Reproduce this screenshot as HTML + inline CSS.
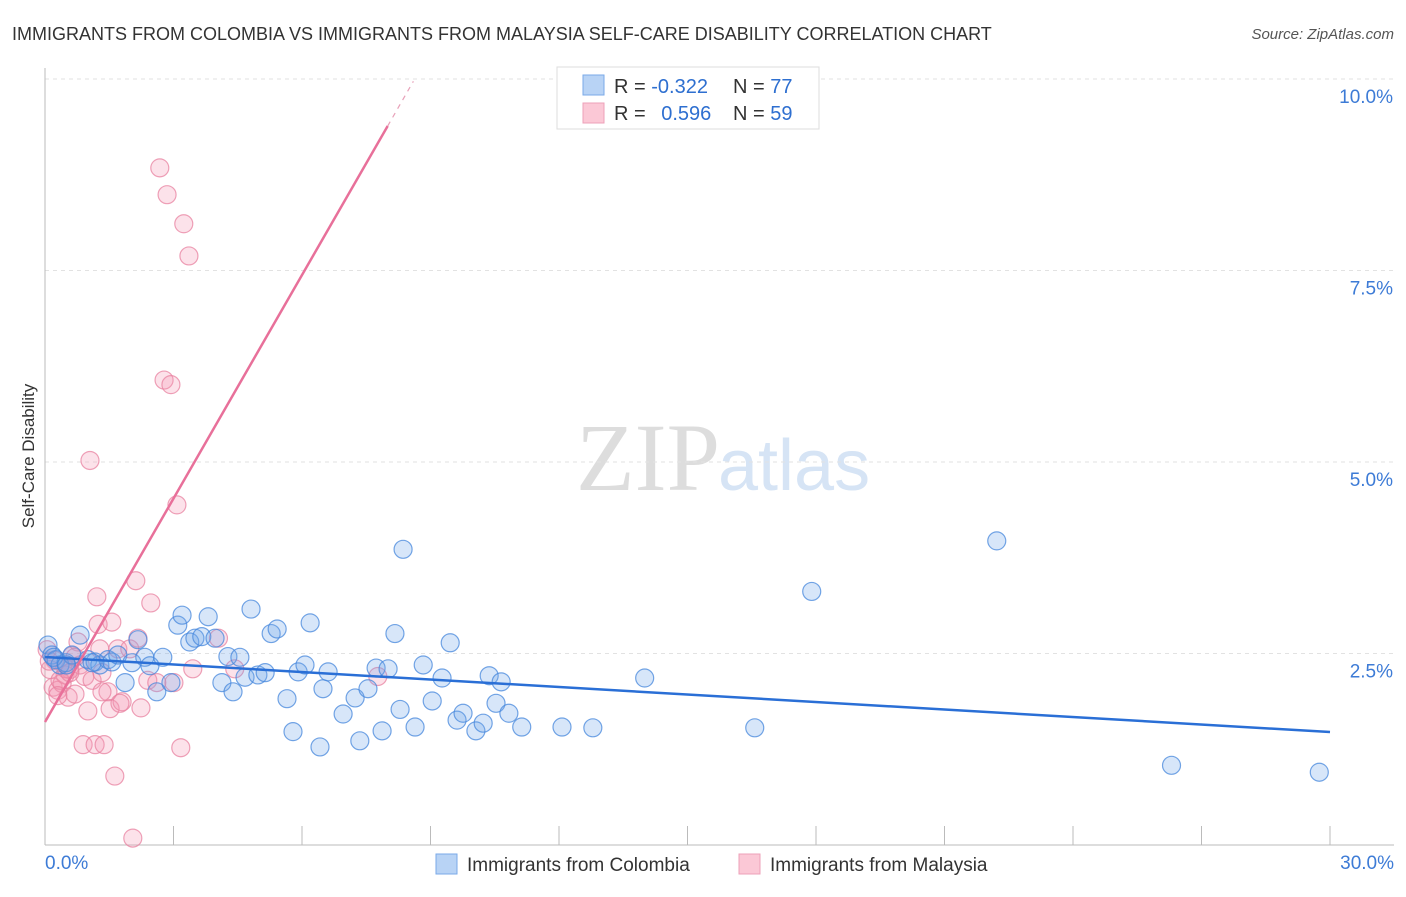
<!DOCTYPE html>
<html><head><meta charset="utf-8"><style>
body{margin:0;background:#fff;font-family:"Liberation Sans",sans-serif;}
svg text{font-family:"Liberation Sans",sans-serif;}
</style></head><body>
<svg id="c" width="1406" height="892">
<text x="12" y="40" font-size="18" fill="#333">IMMIGRANTS FROM COLOMBIA VS IMMIGRANTS FROM MALAYSIA SELF-CARE DISABILITY CORRELATION CHART</text>
<text x="1394" y="39" font-size="15" fill="#555" font-style="italic" text-anchor="end">Source: ZipAtlas.com</text>
<text x="720" y="490" font-size="96" fill="#ddd" text-anchor="end" font-family="Liberation Serif" style="font-family:'Liberation Serif',serif">ZIP</text>
<text x="718" y="490" font-size="72" fill="#d6e4f5">atlas</text>
<text x="34" y="456" font-size="17" fill="#333" text-anchor="middle" transform="rotate(-90 34 456)">Self-Care Disability</text>
<g id="grid"></g><g id="axes"></g><g id="pts"></g><g id="lines"></g>
<g>
<rect x="557" y="67" width="262" height="62" fill="#fff" stroke="#ddd"/>
<rect x="583" y="75" width="21" height="20" fill="#b8d3f5" stroke="#7aaae8"/>
<rect x="583" y="103" width="21" height="20" fill="#fbc8d6" stroke="#eea0b8"/>
<text x="614" y="93" font-size="20" fill="#333">R = <tspan fill="#2e6fd0">-0.322</tspan></text>
<text x="733" y="93" font-size="20" fill="#333">N = <tspan fill="#2e6fd0">77</tspan></text>
<text x="614" y="120" font-size="20" fill="#333">R = <tspan fill="#2e6fd0" dx="10">0.596</tspan></text>
<text x="733" y="120" font-size="20" fill="#333">N = <tspan fill="#2e6fd0">59</tspan></text>
</g>
<g>
<rect x="436" y="854" width="21" height="20" fill="#b8d3f5" stroke="#7aaae8"/>
<text x="467" y="871" font-size="19" fill="#333">Immigrants from Colombia</text>
<rect x="739" y="854" width="21" height="20" fill="#fbc8d6" stroke="#eea0b8"/>
<text x="770" y="871" font-size="19" fill="#333">Immigrants from Malaysia</text>
</g>
</svg>
<script>
const yTicks=[2.5,5.0,7.5,10.0];
const yTickLabels=["2.5%","5.0%","7.5%","10.0%"];
const xTickLabels=["0.0%","30.0%"];
const colombiaX=[0.07,0.16,0.26,0.35,0.49,0.63,0.82,1.0,1.17,1.28,1.47,1.56,1.70,1.87,2.03,2.17,2.33,2.45,2.61,2.75,2.94,3.10,3.20,3.38,3.50,3.66,3.81,3.97,4.13,4.27,4.39,4.55,4.67,4.81,4.97,5.14,5.28,5.42,5.65,5.79,5.91,6.07,6.19,6.42,6.49,6.61,6.96,7.24,7.35,7.54,7.73,7.87,8.01,8.17,8.29,8.36,8.64,8.83,9.04,9.27,9.46,9.62,9.76,10.06,10.23,10.37,10.53,10.65,10.83,11.13,12.07,12.79,14.00,16.57,17.90,22.22,26.30,29.75,0.2,0.5,1.1];
const colombiaY=[2.61,2.48,2.42,2.35,2.38,2.48,2.74,2.42,2.39,2.35,2.42,2.39,2.48,2.12,2.38,2.68,2.45,2.34,2.0,2.45,2.12,2.87,3.0,2.65,2.7,2.72,2.98,2.7,2.12,2.46,2.0,2.45,2.19,3.08,2.22,2.25,2.76,2.82,1.91,1.48,2.26,2.35,2.9,1.28,2.04,2.26,1.71,1.92,1.36,2.04,2.31,1.49,2.3,2.76,1.77,3.86,1.54,2.35,1.88,2.18,2.64,1.63,1.72,1.49,1.59,2.21,1.85,2.13,1.72,1.54,1.54,1.53,2.18,1.53,3.31,3.97,1.04,0.95,2.45,2.35,2.38];
const malaysiaX=[0.05,0.12,0.19,0.23,0.30,0.40,0.47,0.54,0.58,0.63,0.70,0.77,0.82,0.89,0.93,1.00,1.05,1.10,1.17,1.21,1.24,1.28,1.33,1.38,1.47,1.52,1.56,1.63,1.70,1.80,1.98,2.05,2.12,2.17,2.24,2.40,2.47,2.61,2.68,2.78,2.85,2.94,3.01,3.08,3.17,3.24,3.36,3.45,4.05,4.43,7.77,0.35,0.49,0.58,1.33,1.75,0.1,0.3,0.7];
const malaysiaY=[2.55,2.29,2.06,2.41,2.02,2.11,2.22,1.93,2.29,2.47,1.97,2.65,2.35,1.31,2.2,1.75,5.02,2.15,1.31,3.24,2.88,2.56,2.25,1.31,2.0,1.78,2.91,0.9,2.56,1.87,2.56,0.09,3.45,2.7,1.79,2.15,3.16,2.12,8.84,6.07,8.49,6.01,2.12,4.44,1.27,8.11,7.69,2.3,2.7,2.3,2.2,2.15,2.3,2.25,2.0,1.85,2.4,1.95,2.45];
const colombiaTrend=[[0,2.454],[30,1.475]];
const malaysiaTrendSolid=[[0,1.606],[8.0,9.386]];
const malaysiaTrendDash=[[8.0,9.386],[8.6,9.97]];
const NS="http://www.w3.org/2000/svg";
const X=v=>45+v/30*1285, Y=v=>845-v/10*766;
function mk(tag,attrs,parent){const e=document.createElementNS(NS,tag);for(const k in attrs)e.setAttribute(k,attrs[k]);document.getElementById(parent).appendChild(e);return e;}
yTicks.forEach((t,i)=>{
 const g=mk('line',{x1:45,x2:1394,y1:Y(t),y2:Y(t),stroke:'#e2e2e2','stroke-dasharray':'4,4'},'grid');
 
 
 const tx=mk('text',{x:1393,y:Y(t)+24,'font-size':19,fill:'#3d7bd6','text-anchor':'end'},'grid');
 tx.textContent=yTickLabels[i];
 
 
});
let ax=mk('line',{x1:45,x2:45,y1:68,y2:845,stroke:'#bbb'},'axes');


ax=mk('line',{x1:45,x2:1394,y1:845,y2:845,stroke:'#bbb'},'axes');


for(let i=1;i<=10;i++){const tk=mk('line',{x1:X(i*3),x2:X(i*3),y1:826,y2:845,stroke:'#bbb'},'axes');
 
 }
[[0,'start',45],[1,'end',1394]].forEach(([i,a,x])=>{const t=mk('text',{x:x,y:869,'font-size':19,fill:'#3d7bd6','text-anchor':a},'axes');t.textContent=xTickLabels[i];
 
 });
function pts(xs,ys,fill,stroke,name){xs.forEach((x,i)=>{const c=mk('circle',{cx:X(x),cy:Y(ys[i]),r:9,fill:fill,stroke:stroke,'stroke-width':1.2},'pts');
 
 });}
pts(malaysiaX,malaysiaY,'rgba(245,150,180,0.28)','rgba(232,130,160,0.75)','point-malaysia');
pts(colombiaX,colombiaY,'rgba(110,165,235,0.28)','rgba(70,135,220,0.75)','point-colombia');
function line(p,color,w,dash,name){const l=mk('line',{x1:X(p[0][0]),y1:Y(p[0][1]),x2:X(p[1][0]),y2:Y(p[1][1]),stroke:color,'stroke-width':w},'lines');
 if(dash)l.setAttribute('stroke-dasharray',dash);
 
 }
line(colombiaTrend,'#2a6fd6',2.5,null,'trend-line-colombia');
line(malaysiaTrendSolid,'#e8709a',2.5,null,'trend-line-malaysia');
line(malaysiaTrendDash,'#e8a0b8',1.2,'5,5','trend-line-malaysia-extension');
</script>
</body></html>
